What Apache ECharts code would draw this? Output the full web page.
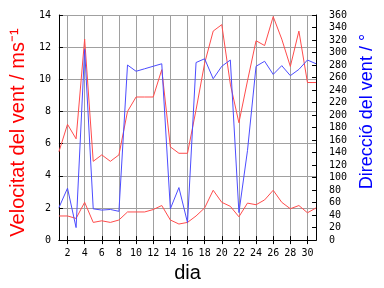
<!DOCTYPE html>
<html><head><meta charset="utf-8">
<script src="https://cdn.jsdelivr.net/npm/echarts@6/dist/echarts.min.js"></script>
<style>html,body{margin:0;padding:0;background:#fff}#c{width:384px;height:288px}</style>
</head><body><div id="c"></div>
<script>
const days = ['1','2','3','4','5','6','7','8','9','10','11','12','13','14','15','16','17','18','19','20','21','22','23','24','25','26','27','28','29','30','31'];
const gustSpeed = [5.5,7.2,6.3,12.5,4.9,5.3,4.9,5.3,8.0,8.9,8.9,8.9,10.6,5.8,5.4,5.4,8.1,11.0,13.0,13.4,9.7,7.3,9.9,12.4,12.1,13.9,12.5,10.8,13.0,9.8,9.8];
const meanSpeed = [1.5,1.5,1.35,2.35,1.1,1.2,1.1,1.25,1.75,1.75,1.75,1.9,2.15,1.25,1.0,1.1,1.5,2.0,3.1,2.35,2.1,1.45,2.3,2.2,2.5,3.1,2.35,1.95,2.15,1.7,2.0];
const direction = [52,83,20,305,50,48,49,46,280,270,274,278,282,50,84,28,284,290,258,278,288,44,143,278,286,265,279,263,273,288,282];

const even = (i) => (i + 1) % 2 === 0;
const labelFont = {fontFamily:'DejaVu Sans Mono', fontSize:10, color:'#000'};
const chart = echarts.init(document.getElementById('c'), null, {renderer:'canvas'});
chart.setOption({
  animation:false,
  backgroundColor:'#fff',
  grid:{left:49, right:49, top:15, bottom:45, containLabel:false},
  xAxis:[{
    type:'category', data:days, boundaryGap:false, position:'bottom',
    name:'dia', nameLocation:'middle', nameGap:22,
    nameTextStyle:{fontFamily:'Liberation Sans', fontSize:20, color:'#000'},
    axisLine:{lineStyle:{color:'#000', width:1}},
    axisTick:{inside:true, length:4, interval:even, lineStyle:{color:'#000'}},
    axisLabel:Object.assign({interval:even, margin:8}, labelFont),
    splitLine:{show:true, interval:even, lineStyle:{color:'#a0a0a0', width:1}}
  },{
    type:'category', data:days, boundaryGap:false, position:'top',
    axisLine:{lineStyle:{color:'#000', width:1}},
    axisTick:{inside:true, length:4, interval:even, lineStyle:{color:'#000'}},
    axisLabel:{show:false}, splitLine:{show:false}
  }],
  yAxis:[{
    type:'value', min:0, max:14, interval:2, position:'left',
    name:'Velocitat del vent / ms⁻¹', nameLocation:'middle', nameGap:26,
    nameTextStyle:{fontFamily:'Liberation Sans', fontSize:20, color:'#ff0000', padding:[0,10,0,0]},
    axisLine:{show:true, lineStyle:{color:'#000', width:1}},
    axisTick:{show:true, inside:true, length:4, lineStyle:{color:'#000'}},
    axisLabel:Object.assign({margin:8}, labelFont),
    splitLine:{show:true, lineStyle:{color:'#a0a0a0', width:1}}
  },{
    type:'value', min:0, max:360, interval:20, position:'right',
    name:'Direcció del vent / °', nameLocation:'middle', nameGap:29,
    nameTextStyle:{fontFamily:'Liberation Sans', fontSize:18, color:'#0000ff', padding:[0,0,0,32]},
    axisLine:{show:true, lineStyle:{color:'#000', width:1}},
    axisTick:{show:true, inside:true, length:4, lineStyle:{color:'#000'}},
    axisLabel:Object.assign({margin:13}, labelFont),
    splitLine:{show:false}
  }],
  series:[
    {type:'line', data:gustSpeed, xAxisIndex:0, yAxisIndex:0, symbol:'none', lineStyle:{color:'#ff4c4c', width:1}, itemStyle:{color:'#ff4c4c'}},
    {type:'line', data:meanSpeed, xAxisIndex:0, yAxisIndex:0, symbol:'none', lineStyle:{color:'#ff4c4c', width:1}, itemStyle:{color:'#ff4c4c'}},
    {type:'line', data:direction, xAxisIndex:0, yAxisIndex:1, symbol:'none', lineStyle:{color:'#4c4cff', width:1}, itemStyle:{color:'#4c4cff'}}
  ]
});
</script></body></html>
